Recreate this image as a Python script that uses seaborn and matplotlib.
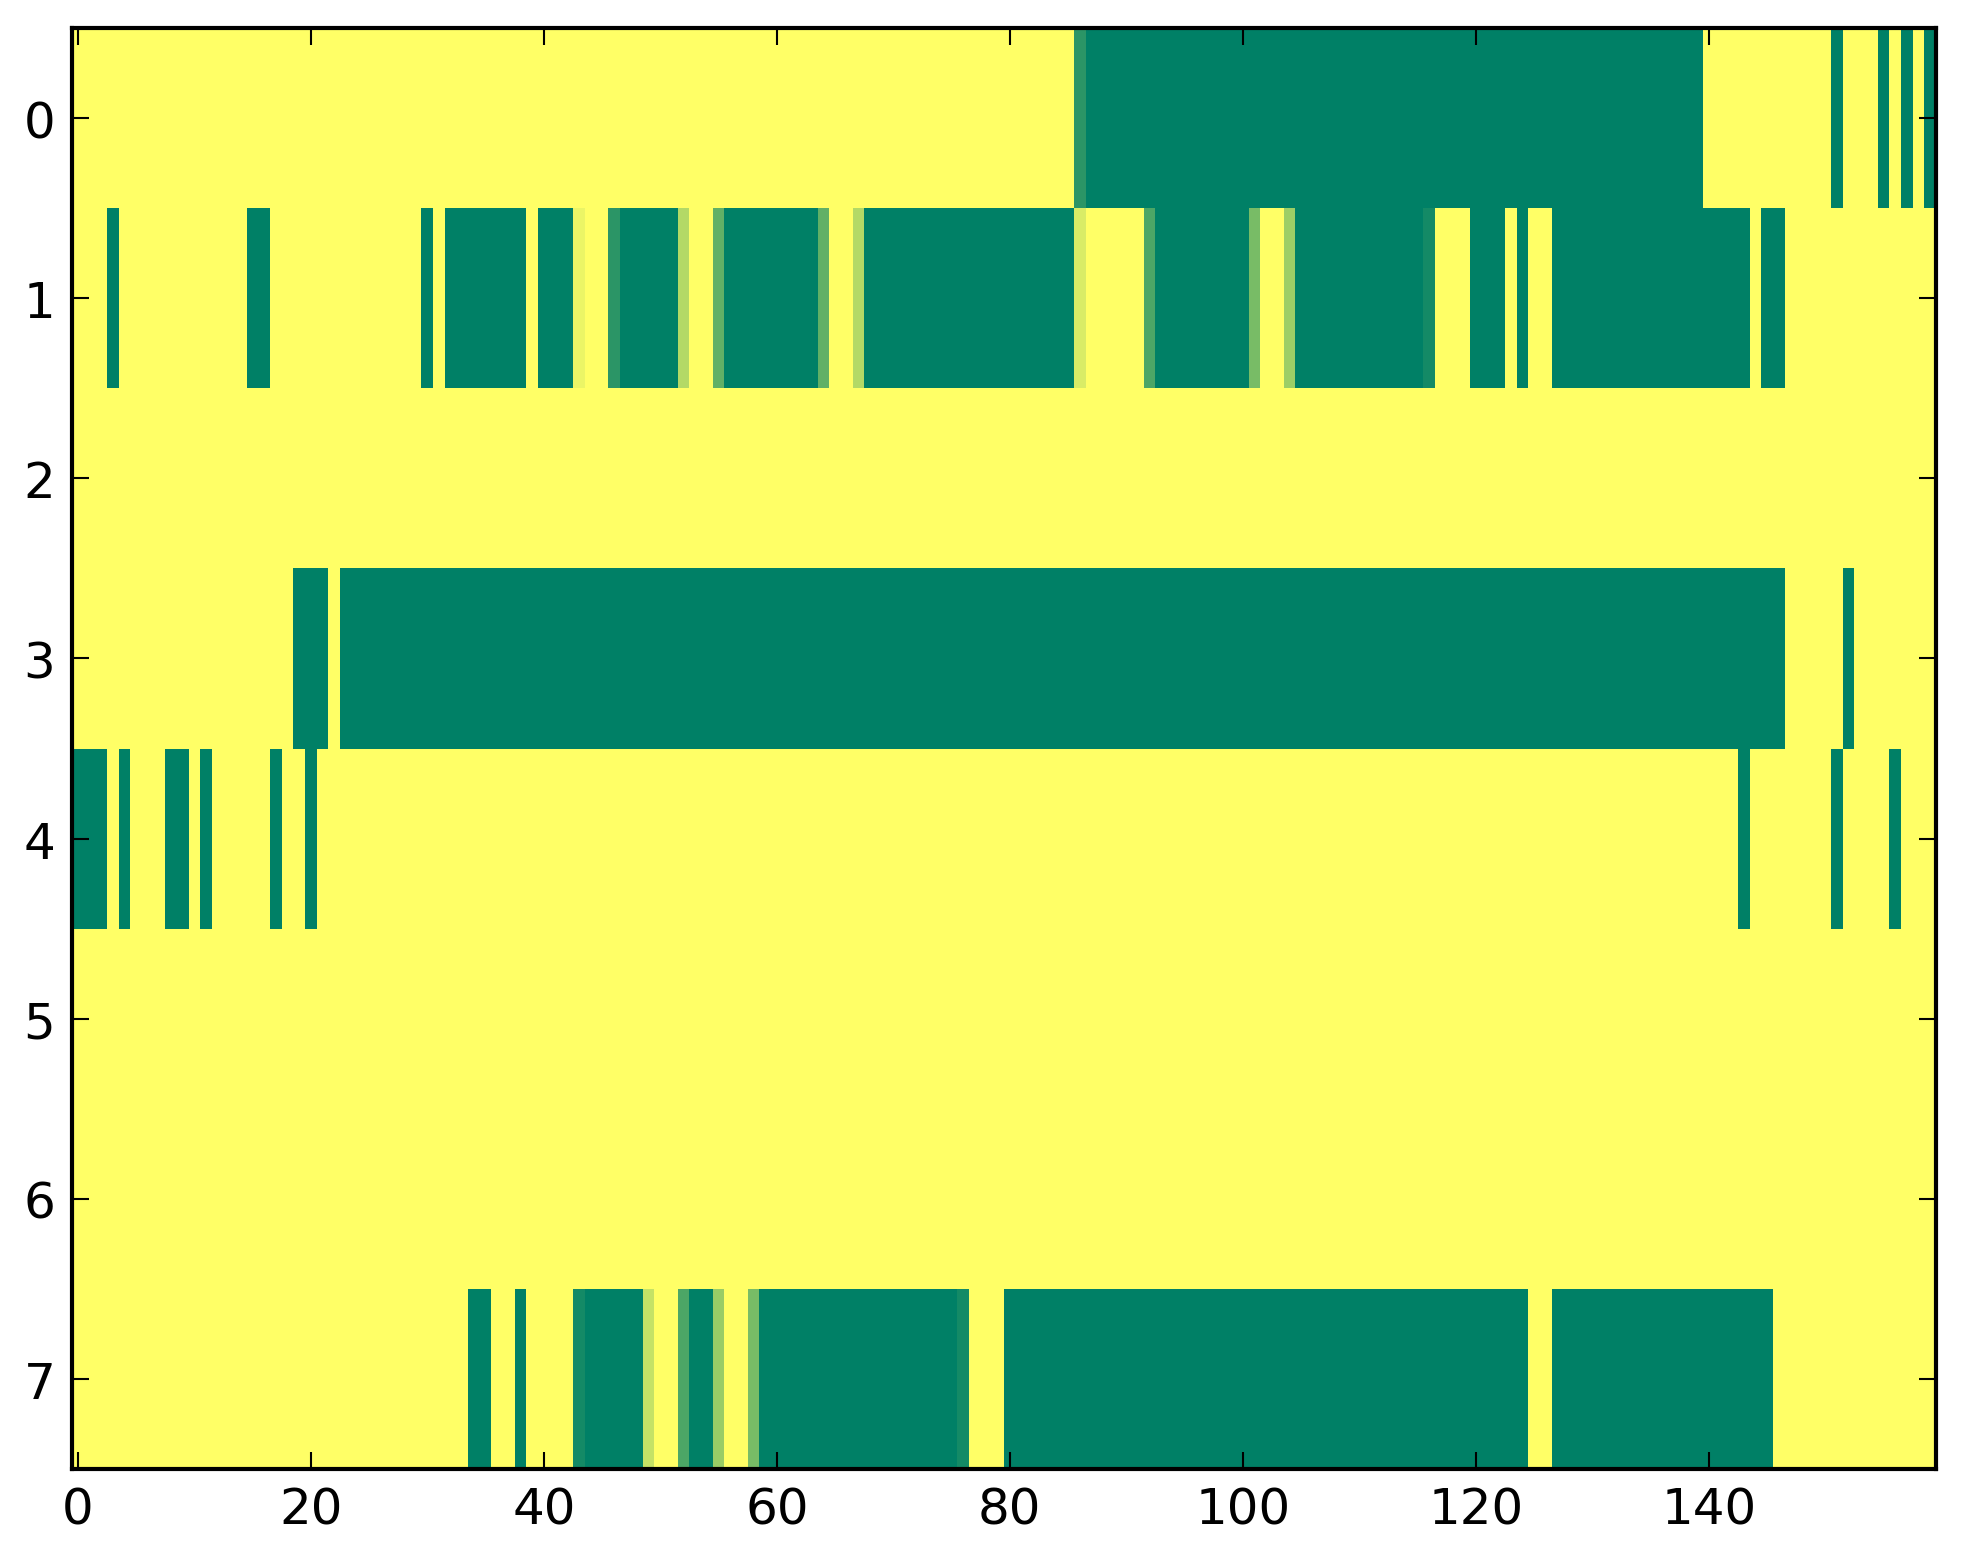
import numpy as np
import pandas as pd
import matplotlib
matplotlib.use("Agg")
import matplotlib.pyplot as plt
import seaborn as sns

# ---- data: runs of filled cells per row (start_col, end_col, value); unlisted cells are 0 ----
n_rows = 8
n_cols = 160
row0_runs = [(86, 86, 0.83), (87, 139, 1.0), (151, 151, 1.0), (155, 155, 1.0),
             (157, 157, 1.0), (159, 159, 1.0)]
row1_runs = [(3, 3, 1.0), (15, 16, 1.0), (30, 30, 1.0), (32, 38, 1.0), (40, 42, 1.0),
             (43, 43, 0.08), (46, 46, 0.83), (47, 51, 1.0), (52, 52, 0.3), (55, 55, 0.62),
             (56, 63, 1.0), (64, 64, 0.62), (67, 67, 0.3), (68, 85, 1.0), (86, 86, 0.15),
             (92, 92, 0.7), (93, 100, 1.0), (101, 101, 0.53), (104, 104, 0.39),
             (105, 115, 1.0), (116, 116, 0.92), (120, 122, 1.0), (124, 124, 1.0),
             (127, 143, 1.0), (145, 146, 1.0)]
row2_runs = []
row3_runs = [(19, 21, 1.0), (23, 146, 1.0), (152, 152, 1.0)]
row4_runs = [(0, 2, 1.0), (4, 4, 1.0), (8, 9, 1.0), (11, 11, 1.0), (17, 17, 1.0),
             (20, 20, 1.0), (143, 143, 1.0), (151, 151, 1.0), (156, 156, 1.0)]
row5_runs = []
row6_runs = []
row7_runs = [(34, 35, 1.0), (38, 38, 1.0), (43, 43, 0.92), (44, 48, 1.0), (49, 49, 0.23),
             (52, 52, 0.7), (53, 54, 1.0), (55, 55, 0.4), (58, 58, 0.53), (59, 75, 1.0),
             (76, 76, 0.92), (80, 124, 1.0), (127, 145, 1.0)]

x_tick_values = [0, 20, 40, 60, 80, 100, 120, 140]
y_tick_values = [0, 1, 2, 3, 4, 5, 6, 7]

all_runs = [row0_runs, row1_runs, row2_runs, row3_runs,
            row4_runs, row5_runs, row6_runs, row7_runs]
matrix = np.zeros((n_rows, n_cols))
for r, runs in enumerate(all_runs):
    for s, e, v in runs:
        matrix[r, s:e + 1] = v
df = pd.DataFrame(matrix)

# ---- figure ----
plt.rcParams['font.family'] = ['DejaVu Sans']
W, H, DPI = 1963, 1564, 300
fig = plt.figure(figsize=(W / DPI, H / DPI), dpi=DPI)
ax = fig.add_axes([72 / W, 1 - 1470 / H, (1936 - 72) / W, (1470 - 29) / H])

sns.heatmap(df, cmap="summer_r", vmin=0, vmax=1, cbar=False, ax=ax,
            xticklabels=False, yticklabels=False, linewidths=0)

ax.set_xticks(np.array(x_tick_values) + 0.5)
ax.set_xticklabels([str(v) for v in x_tick_values], rotation=0)
ax.set_yticks(np.array(y_tick_values) + 0.5)
ax.set_yticklabels([str(v) for v in y_tick_values], rotation=0)
ax.set_xlabel("")
ax.set_ylabel("")

for s in ax.spines.values():
    s.set_visible(True)
    s.set_linewidth(1.0)
    s.set_color("black")

ax.tick_params(axis="both", which="major", direction="in", length=4, width=0.5,
               top=True, right=True, bottom=True, left=True,
               labeltop=False, labelright=False, labelsize=12, pad=4,
               colors="black")

fig.savefig("out.png", dpi=DPI, facecolor="white")
